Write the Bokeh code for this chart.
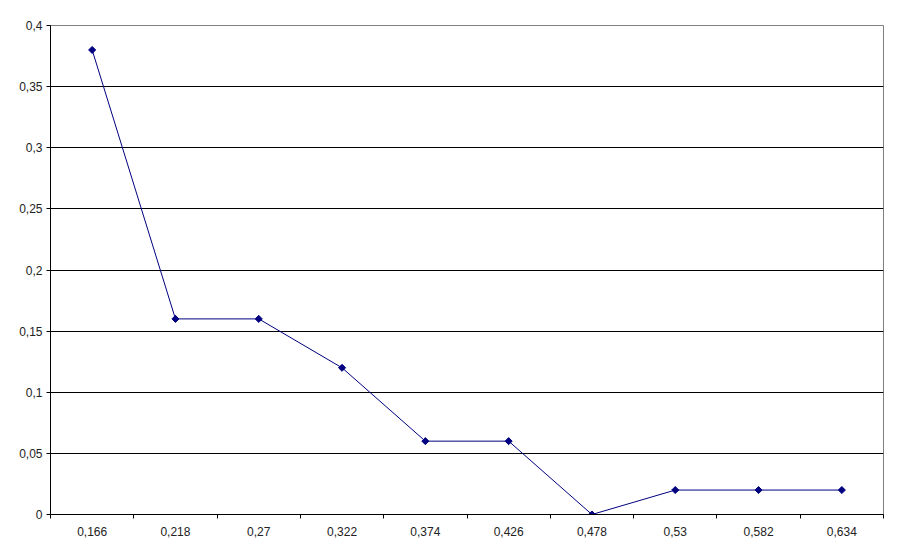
import math
from bokeh.plotting import figure
from bokeh.models import FixedTicker, Range1d, ColumnDataSource
from bokeh.embed import file_html
from bokeh.resources import INLINE

categories = ["0,166", "0,218", "0,27", "0,322", "0,374", "0,426", "0,478", "0,53", "0,582", "0,634"]
values = [0.38, 0.16, 0.16, 0.12, 0.06, 0.06, 0.0, 0.02, 0.02, 0.02]
y_ticks = [0, 0.05, 0.1, 0.15, 0.2, 0.25, 0.3, 0.35, 0.4]
y_labels = ["0", "0,05", "0,1", "0,15", "0,2", "0,25", "0,3", "0,35", "0,4"]

xs = list(range(len(categories)))
src = ColumnDataSource(dict(x=xs, y=values))

p = figure(width=889, height=550, output_backend="svg", toolbar_location=None,
           x_range=Range1d(-0.5, len(categories) - 0.5), y_range=Range1d(0, 0.4),
           min_border_left=50, min_border_right=6, min_border_top=25, min_border_bottom=36)
p.background_fill_color = "white"
p.border_fill_color = "white"
p.outline_line_color = "#808080"
p.outline_line_width = 1

p.line("x", "y", source=src, line_color="#000080", line_width=1)
p.scatter("x", "y", source=src, marker="square", size=5, angle=math.pi / 4,
          fill_color="#000080", line_color="#000080")

# x axis
bounds = [i - 0.5 for i in range(len(categories) + 1)]
p.xaxis.ticker = FixedTicker(ticks=xs, minor_ticks=bounds)
p.xaxis.major_label_overrides = {i: c for i, c in enumerate(categories)}
p.xaxis.major_tick_out = 0
p.xaxis.major_tick_in = 0
p.xaxis.minor_tick_out = 4
p.xaxis.minor_tick_in = 0
p.xaxis.minor_tick_line_color = "black"
p.xaxis.axis_line_color = "black"
p.xaxis.major_label_standoff = 8
p.xaxis.major_label_text_font = "Liberation Sans"
p.xaxis.major_label_text_font_size = "12px"
p.xaxis.major_label_text_color = "#222222"

# y axis
p.yaxis.ticker = FixedTicker(ticks=y_ticks)
p.yaxis.major_label_overrides = {t: l for t, l in zip(y_ticks, y_labels)}
p.yaxis.major_tick_out = 4
p.yaxis.major_tick_in = 0
p.yaxis.minor_tick_line_color = None
p.yaxis.axis_line_color = "black"
p.yaxis.major_label_standoff = 4
p.yaxis.major_label_text_font = "Liberation Sans"
p.yaxis.major_label_text_font_size = "12px"
p.yaxis.major_label_text_color = "#222222"

p.xgrid.grid_line_color = None
p.ygrid.ticker = FixedTicker(ticks=y_ticks[1:-1])
p.ygrid.grid_line_color = "black"
p.ygrid.grid_line_width = 1

open("out.html", "w").write(file_html(p, INLINE))
